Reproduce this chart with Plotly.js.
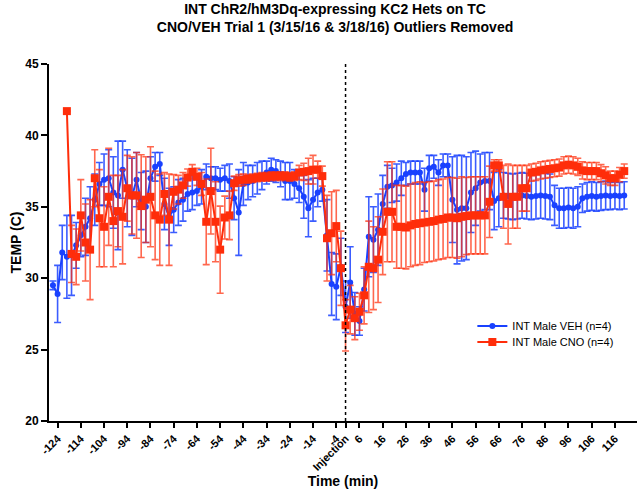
<!DOCTYPE html>
<html><head><meta charset="utf-8">
<script src="https://cdn.plot.ly/plotly-3.0.1.min.js"></script>
<style>html,body{margin:0;padding:0;background:#fff}#chart{width:637px;height:489px}</style>
</head><body><div id="chart"></div>
<script>
const times = [-126,-124,-122,-120,-118,-116,-114,-112,-110,-108,
 -106,-104,-102,-100,-98,-96,-94,-92,-90,-88,
 -86,-84,-82,-80,-78,-76,-74,-72,-70,-68,
 -66,-64,-62,-60,-58,-56,-54,-52,-50,-48,
 -46,-44,-42,-40,-38,-36,-34,-32,-30,-28,
 -26,-24,-22,-20,-18,-16,-14,-12,-10,-8,
 -6,-4,-2,0,2,4,6,8,10,12,
 14,16,18,20,22,24,26,28,30,32,
 34,36,38,40,42,44,46,48,50,52,
 54,56,58,60,62,64,66,68,70,72,
 74,76,78,80,82,84,86,88,90,92,
 94,96,98,100,102,104,106,108,110,112,
 114,116,118,120];

const vehMean = [29.5,28.9,31.8,31.5,31.6,32.3,33.0,33.6,34.2,35.5,
 36.6,36.9,37.0,36.0,35.8,37.6,36.3,35.7,36.9,35.4,
 35.0,37.0,37.8,38.0,35.2,34.3,34.8,35.3,35.5,35.9,
 36.0,36.1,36.4,37.1,37.0,37.0,36.9,37.0,36.8,35.6,
 34.6,36.6,36.7,36.8,37.0,37.2,37.4,37.6,37.5,37.3,
 36.8,36.8,36.6,36.3,35.7,34.9,35.5,36.0,36.2,33.0,
 29.6,29.4,30.8,28.0,29.7,27.5,27.0,29.2,32.9,32.7,
 33.4,35.2,36.4,36.5,36.7,37.0,37.3,37.4,37.4,37.4,
 36.2,37.7,37.8,37.4,37.9,37.9,35.5,34.8,34.9,34.9,
 36.0,36.3,36.7,36.8,36.8,35.4,35.6,35.8,35.75,35.7,
 35.75,35.8,35.75,35.7,35.75,35.8,35.75,35.7,35.1,34.9,
 34.9,34.95,34.9,35.0,35.6,35.7,35.75,35.7,35.75,35.8,
 35.75,35.8,35.75,35.8];

const vehErr = [0.3,2.0,1.9,2.9,2.8,1.6,1.5,2.0,2.2,1.8,
 1.5,1.8,2.0,2.5,3.8,2.0,2.7,2.7,1.9,2.0,
 2.5,1.5,1.0,0.8,1.8,2.0,1.6,1.6,1.5,1.2,
 1.2,1.0,1.2,0.9,0.8,0.8,0.8,0.9,1.2,1.5,
 3.0,1.5,1.2,1.1,1.1,1.0,0.8,0.8,0.8,0.9,
 1.3,1.3,1.0,1.0,1.5,2.0,1.5,1.0,0.8,2.5,
 2.2,2.3,2.0,1.8,2.5,1.5,1.0,1.5,2.8,2.3,
 2.5,2.0,1.5,1.2,1.3,1.2,0.8,0.8,0.8,0.8,
 1.5,0.9,0.8,0.9,0.8,0.8,3.0,3.8,3.7,3.6,
 2.8,2.6,2.0,2.0,2.0,2.0,2.0,1.6,1.6,1.6,
 1.6,1.6,1.6,1.6,1.6,1.6,1.6,1.6,1.4,1.4,
 1.4,1.4,1.4,1.4,1.0,1.0,1.0,1.0,1.0,1.0,
 0.95,0.95,0.95,0.95];

const cnoMean = [null,null,null,41.7,31.7,31.5,34.4,32.5,32.0,37.0,
 34.2,33.6,35.7,34.0,34.7,34.3,36.3,35.8,35.8,35.05,
 35.5,35.7,34.4,34.1,35.9,34.1,36.05,36.2,36.5,37.05,
 37.45,37.1,36.6,33.95,36.1,33.95,32.0,34.25,34.4,36.65,
 36.85,36.9,36.95,37.0,37.05,37.1,37.1,37.15,37.15,37.15,
 37.15,37.1,37.15,37.4,37.45,37.5,37.6,37.6,37.15,32.8,
 33.15,33.65,30.7,26.7,27.8,27.2,27.65,28.8,30.8,30.7,
 31.3,33.25,34.65,34.65,33.6,33.6,33.55,33.7,33.8,33.85,
 33.9,33.95,34.0,34.1,34.15,34.25,34.25,34.2,34.3,34.35,
 34.4,34.4,34.4,34.4,35.35,37.9,37.9,35.7,35.2,35.7,
 35.7,36.3,36.3,37.4,37.45,37.55,37.6,37.65,37.7,37.75,
 37.9,37.95,37.9,37.8,37.55,37.5,37.5,37.5,37.35,37.2,
 37.0,37.0,37.25,37.5];

const cnoErr = [null,null,null,0,2.0,1.95,2.5,2.7,3.5,2.0,
 3.4,2.8,3.4,3.2,2.5,3.3,2.3,2.7,3.0,3.6,
 3.0,3.5,3.1,3.2,1.5,3.2,1.2,1.0,0.9,0.6,
 0.5,0.6,0.8,3.0,3.0,2.8,3.05,1.5,1.7,0.5,
 0.4,0.4,0.3,0.3,0.3,0.3,0.3,0.3,0.3,0.3,
 0.3,0.3,0.3,0.5,0.6,0.9,1.0,0.6,0.7,3.0,
 2.9,2.5,2.6,1.8,1.7,1.5,1.3,2.0,3.2,2.9,
 3.0,3.0,3.5,3.5,2.9,2.9,2.9,2.9,2.9,2.9,
 2.8,2.8,2.8,2.8,2.8,2.8,2.8,2.8,2.8,2.7,
 2.7,2.7,2.7,2.7,2.5,0.4,0.4,2.2,2.8,2.2,
 2.2,1.6,1.6,0.6,0.6,0.6,0.6,0.6,0.6,0.6,
 0.6,0.6,0.6,0.6,0.6,0.6,0.6,0.6,0.6,0.6,
 0.5,0.5,0.5,0.5];

const tickVals = [-124,-114,-104,-94,-84,-74,-64,-54,-44,-34,-24,-14,-4,0,6,16,26,36,46,56,66,76,86,96,106,116];
const tickText = ['-124','-114','-104','-94','-84','-74','-64','-54','-44','-34','-24','-14','-4','Injection','6','16','26','36','46','56','66','76','86','96','106','116'];

const seriesNames = ['INT Male VEH (n=4)','INT Male CNO (n=4)'];
const injectionTime = 0;

const FONT = 'Liberation Sans, Arial, sans-serif';
const BLUE = 'rgb(25,65,255)';
const RED = 'rgb(255,45,10)';

const traces = [
 {x: times, y: vehMean, name: seriesNames[0], type:'scatter', mode:'lines+markers', legend:'legend',
  line:{color:BLUE, width:2}, marker:{color:BLUE, size:6, symbol:'circle'},
  error_y:{type:'data', array:vehErr, visible:true, color:'rgba(25,65,255,0.85)', thickness:1.6, width:3.5}},
 {x: times, y: cnoMean, name: seriesNames[1], type:'scatter', mode:'lines+markers', legend:'legend2',
  line:{color:RED, width:2}, marker:{color:RED, size:8, symbol:'square'},
  error_y:{type:'data', array:cnoErr, visible:true, color:'rgba(255,45,10,0.72)', thickness:1.6, width:3.5}}
];

const legendBase = {xanchor:'left', yanchor:'top', bgcolor:'rgba(0,0,0,0)',
   font:{family:FONT, size:11, color:'#000'}};

const layout = {
 width:637, height:489,
 margin:{l:49, r:0, t:64, b:68},
 paper_bgcolor:'#fff', plot_bgcolor:'#fff',
 font:{family:FONT, color:'#000'},
 title:{text:'INT ChR2/hM3Dq-expressing KC2 Hets on TC<br>CNO/VEH Trial 1 (3/15/16 &amp; 3/18/16) Outliers Removed',
   font:{family:FONT, size:14, weight:'bold', color:'#000'}, x:0.526, xref:'container', xanchor:'center', y:0.972, yref:'container', yanchor:'top'},
 xaxis:{range:[-127.7,125.5], tickvals:tickVals, ticktext:tickText, tickangle:-45,
   showline:true, linecolor:'#000', linewidth:2, ticks:'outside', ticklen:5, tickwidth:2, tickcolor:'#000',
   showgrid:false, zeroline:false, tickfont:{family:FONT, size:11, weight:'bold'},
   title:{text:'Time (min)', font:{family:FONT, size:14, weight:'bold'}, standoff:0}},
 yaxis:{range:[20,45], dtick:5, tick0:20,
   showline:true, linecolor:'#000', linewidth:2, ticks:'outside', ticklen:6, tickwidth:2, tickcolor:'#000',
   showgrid:false, zeroline:false, tickfont:{family:FONT, size:12, weight:'bold'},
   title:{text:'TEMP (C)', font:{family:FONT, size:14, weight:'bold'}, standoff:0}},
 legend:Object.assign({x:0.72, y:0.307}, legendBase),
 legend2:Object.assign({x:0.72, y:0.262}, legendBase),
 shapes:[{type:'line', xref:'x', yref:'paper', x0:injectionTime, x1:injectionTime, y0:0, y1:1,
   line:{color:'#000', width:1.5, dash:'dot'}}],
 showlegend:true
};

Plotly.newPlot('chart', traces, layout, {displayModeBar:false, staticPlot:true});
</script></body></html>
